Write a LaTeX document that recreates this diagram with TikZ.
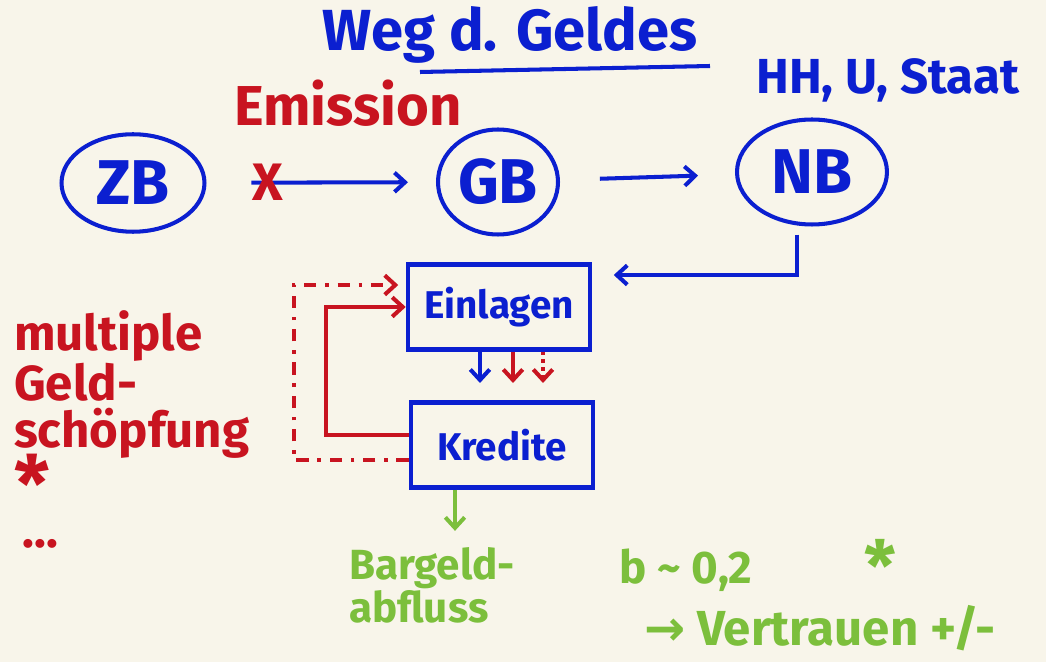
\documentclass[tikz,border=0pt]{standalone}
\usepackage{graphicx}
\usepackage{fontspec}
\setmainfont{Fira Sans}
\newfontfamily\dejavu{DejaVu Sans}
\usetikzlibrary{shapes.geometric,arrows.meta,positioning}
\definecolor{paper}{HTML}{F8F5EA}
\definecolor{pen}{HTML}{0B1FD0}
\definecolor{redpen}{HTML}{C81420}
\definecolor{greenpen}{HTML}{7CBF3C}

\begin{document}
\begin{tikzpicture}[x=0.02cm,y=-0.02cm,
  bank/.style={ellipse,draw=pen,line width=2.3pt,text=pen,font=\fontsize{36}{40}\selectfont\bfseries,inner sep=0pt},
  konto/.style={draw=pen,line width=2.3pt,text=pen,font=\fontsize{22}{26}\selectfont\bfseries,minimum width=3.65cm,minimum height=1.7cm},
  pfeil/.style={-{Straight Barb[length=6pt,width=11pt]},line width=2.3pt},
  rot/.style={text=redpen,font=\fontsize{28}{27}\selectfont\bfseries},
  blau/.style={text=pen,font=\fontsize{28}{28}\selectfont\bfseries},
  gruen/.style={text=greenpen,font=\fontsize{24}{21}\selectfont\bfseries},
  punktiert/.style={dash pattern=on 7pt off 5pt on 2pt off 5pt}]
\fill[paper] (0,0) rectangle (1046,662);
\useasboundingbox (0,0) rectangle (1046,662);

% Ueberschrift
\node[blau,font=\fontsize{33}{33}\selectfont\bfseries] (titel) at (510,35) {Weg d. Geldes};
\draw[pen,line width=2.3pt] (420,72) -- (710,66);

% Banken
\node[bank,minimum width=2.86cm,minimum height=1.95cm] (zb) at (133,183) {ZB};
\node[bank,minimum width=2.4cm,minimum height=2.1cm] (gb) at (498,182) {GB};
\node[bank,minimum width=3cm,minimum height=2.1cm] (nb) at (812,172) {NB};
\node[rot,font=\fontsize{32}{32}\selectfont\bfseries] (emission) at (348,103) {Emission};
\node[blau] (hhu) at (888,80) {HH, U, Staat};

\draw[pfeil,pen,shorten <=0.9cm,shorten >=0.56cm] (zb) -- (gb);
\node[rot,font=\fontsize{30}{30}\selectfont\bfseries] (kreuz) at (268,182) {X};
\draw[pfeil,pen,shorten <=0.8cm,shorten >=0.74cm] (gb) -- (nb);

% Konten
\node[konto] (ein) at (499,307) {Einlagen};
\node[konto] (kre) at (502,445) {Kredite};
\draw[pfeil,pen,shorten <=0.16cm,shorten >=0.43cm] ([xshift=-0.3cm]nb.south) |- ([yshift=0.64cm]ein.east);
\draw[pfeil,pen,shorten >=0.35cm] ([xshift=-0.38cm]ein.south) -- ([xshift=-0.38cm]ein.south |- kre.north);
\draw[pfeil,redpen,shorten >=0.35cm] ([xshift=0.28cm]ein.south) -- ([xshift=0.28cm]ein.south |- kre.north);
\draw[pfeil,redpen,dash pattern=on 2pt off 2.5pt,shorten >=0.35cm] ([xshift=0.88cm]ein.south) -- ([xshift=0.88cm]ein.south |- kre.north);

% Kreislauf
\draw[pfeil,redpen] ([yshift=0.2cm]kre.west) -- ++(-83,0) |- (ein.west);
\draw[pfeil,redpen,punktiert,shorten >=0.15cm] ([yshift=-0.3cm]kre.west) -- ++(-115,0) |- ([yshift=0.44cm]ein.west);
\node[rot,align=left,anchor=north west] (mgs) at (8,304)
  {multiple\\Geld-\\schöpfung\\\smash{\raisebox{-0.35em}{\scalebox{1.6}{*}}}\\[3pt]\,...};

% Bargeld
\node[gruen,align=left] (bar) at (432,585) {Bargeld-\\abfluss};
\draw[pfeil,greenpen,shorten >=0.2cm] ([xshift=-0.94cm]kre.south) -- ([xshift=-0.94cm]kre.south |- bar.north);
\node[gruen,font=\fontsize{26}{26}\selectfont\bfseries] (quote) at (686,570) {b \textasciitilde{} 0,2};
\node[gruen,font=\fontsize{40}{40}\selectfont\bfseries] (stern) at (880,565) {*};
\node[gruen,font=\fontsize{28}{28}\selectfont\bfseries] (vertrauen) at (820,628) {{\dejavu →} Vertrauen +/-};
\end{tikzpicture}
\end{document}
